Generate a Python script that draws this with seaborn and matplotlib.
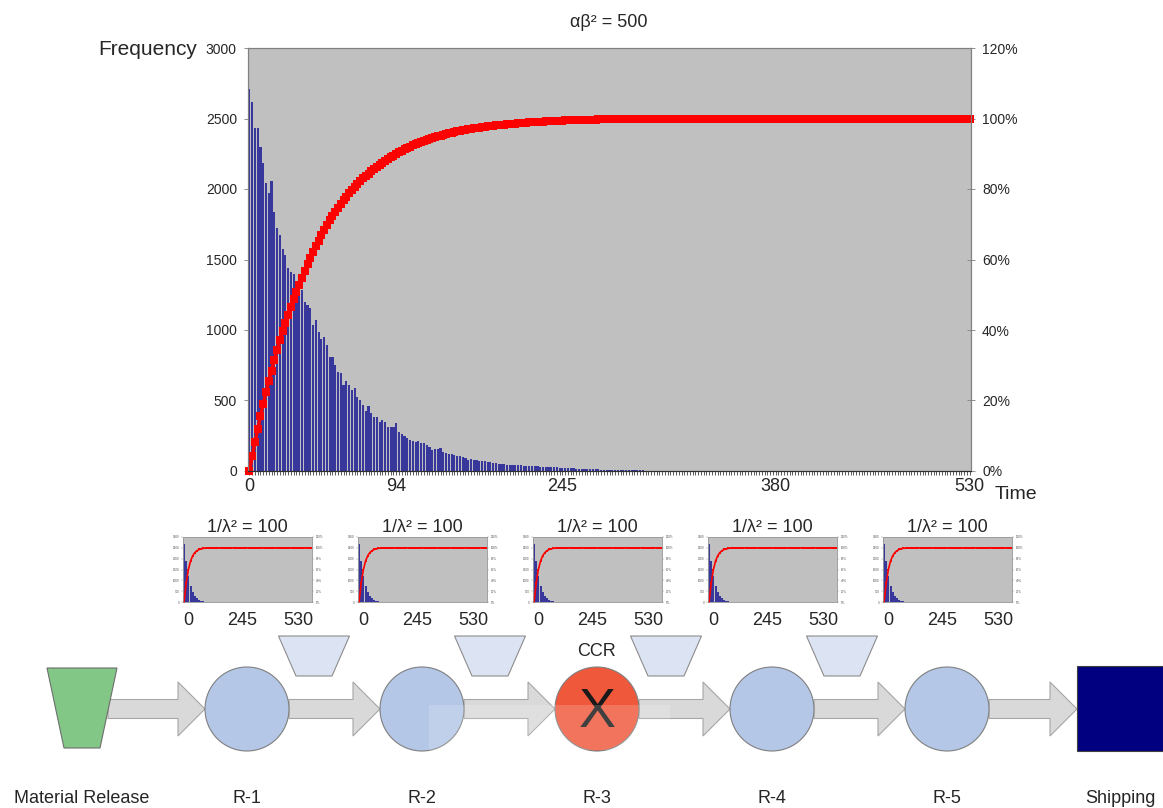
import numpy as np
import pandas as pd
import matplotlib
matplotlib.use('Agg')
import matplotlib.pyplot as plt
import seaborn as sns
from matplotlib.patches import Polygon, Circle, Rectangle
from matplotlib.ticker import PercentFormatter

# frequency per time bin for the main chart (alpha*beta^2 = 500)
freq = [
    2706, 2619, 2434, 2434, 2295, 2182, 2040, 1969, 2058, 1838,
    1725, 1673, 1572, 1531, 1437, 1413, 1397, 1342, 1307, 1283,
    1200, 1177, 1154, 1035, 1071, 988, 934, 952, 893, 810,
    806, 752, 704, 693, 610, 640, 610, 574, 586, 527,
    503, 468, 425, 461, 409, 385, 381, 350, 362, 350,
    314, 314, 310, 342, 279, 262, 248, 232, 220, 215,
    208, 215, 196, 201, 184, 168, 149, 154, 154, 161,
    137, 130, 121, 121, 113, 106, 106, 97, 90, 78,
    83, 78, 78, 73, 73, 71, 66, 62, 59, 54,
    50, 48, 47, 45, 46, 43, 42, 41, 40, 38,
    37, 36, 35, 33, 32, 31, 30, 28, 28, 27,
    25, 25, 23, 22, 21, 20, 19, 18, 17, 16,
    15, 14, 14, 13, 12, 11, 11, 10, 9, 9,
    8, 8, 7, 7, 6, 6, 5, 5, 5, 4,
    4, 4, 4, 3, 3, 3, 3, 3, 2, 2,
    2, 2, 2, 2, 2, 1, 1, 1, 1, 1,
    1, 1, 1, 1, 1, 1, 1, 1, 1, 1,
    1, 1, 1, 1, 1, 1, 1, 0, 1, 1,
    0, 1, 1, 0, 1, 0, 1, 0, 0, 1,
    0, 1, 0, 0, 1, 0, 0, 0, 1, 0,
    0, 0, 1, 0, 0, 0, 0, 1, 0, 0,
    0, 0, 0, 0, 1, 0, 0, 0, 0, 0,
    0, 0, 0, 0, 0, 0, 0, 0, 0, 0,
    0, 0, 0, 0, 0, 0, 0, 0, 0, 0,
    0, 0, 0, 0, 0, 0, 0, 0, 0, 0,
    0, 0, 0, 0, 0, 0, 0, 0, 0, 0,
    0,
]
time_tick_labels = ['0', '94', '245', '380', '530']
time_tick_bins = [0, 53, 113, 190, 260]

# small charts (1/lambda^2 = 100) for each resource
small_freq = [
    2700, 1900, 1200, 750, 450, 280, 170, 100, 60, 35,
    20, 10, 5, 2, 1, 0, 0, 0, 0, 0,
    0, 0, 0, 0, 0, 0, 0, 0, 0, 0, 0, 0, 0, 0, 0, 0, 0, 0, 0, 0,
    0, 0, 0, 0, 0, 0, 0, 0, 0, 0, 0, 0, 0, 0, 0, 0, 0, 0, 0, 0,
]
small_tick_labels = ['0', '245', '530']
small_tick_bins = [2, 27, 53]
small_titles = ['1/λ² = 100', '1/λ² = 100', '1/λ² = 100', '1/λ² = 100', '1/λ² = 100']

stations = ['Material Release', 'R-1', 'R-2', 'R-3', 'R-4', 'R-5', 'Shipping']

sns.set_theme(style='ticks')
plt.rcParams['font.family'] = ['Liberation Sans', 'DejaVu Sans']

W, H = 1163, 808
BAR = '#37379C'
GREY = '#C0C0C0'
SPINE = '#808080'


def fx(px):
    return px / W


def fy(py):
    return 1 - py / H


def make_df(values):
    df = pd.DataFrame({'bin': np.arange(len(values)), 'freq': values})
    df['cum'] = (df['freq'].cumsum() - df['freq']) / df['freq'].sum() * 100
    return df


fig = plt.figure(figsize=(W / 100, H / 100), dpi=100)
fig.patch.set_facecolor('white')

# ---- main chart
df = make_df(freq)
n = len(df)
ax = fig.add_axes([fx(248), fy(471), 723 / W, 423 / H])
ax.set_facecolor(GREY)
sns.barplot(data=df, x='bin', y='freq', color=BAR, saturation=1, width=0.78,
            errorbar=None, linewidth=0, ax=ax)
ax.set_xlim(-0.5, n - 0.5)
ax.set_ylim(0, 3000)
ax.set_yticks(range(0, 3001, 500))
ax.set_xticks(time_tick_bins, time_tick_labels)
ax.set_xticks(np.arange(n), minor=True)
ax.tick_params(axis='x', which='both', direction='out', length=3, width=0.6,
               color='#404040', labelsize=13, pad=2)
ax.tick_params(axis='y', direction='out', length=3, width=0.6, color=SPINE,
               labelsize=10, pad=5)
ax.set_xlabel('')
ax.set_ylabel('')

ax2 = ax.twinx()
sns.lineplot(data=df, x='bin', y='cum', ax=ax2, color='#FF0000', linewidth=2.5,
             marker='s', markersize=5.5, markeredgewidth=0)
for ln in ax2.lines:
    ln.set_clip_on(False)
ax2.set_ylim(0, 120)
ax2.set_yticks(range(0, 121, 20))
ax2.yaxis.set_major_formatter(PercentFormatter(decimals=0))
ax2.tick_params(axis='y', direction='inout', length=6, width=0.6, color=SPINE,
                labelsize=10, pad=5)
ax2.set_ylabel('')
ax2.set_xlabel('')
for a in (ax, ax2):
    for side in ('left', 'right', 'top'):
        a.spines[side].set_visible(True)
        a.spines[side].set_color(SPINE)
        a.spines[side].set_linewidth(0.8)
    a.spines['bottom'].set_color('#303030')
    a.spines['bottom'].set_linewidth(0.8)

fig.text(fx(609), fy(27), 'αβ² = 500', ha='center', va='baseline', fontsize=13)
fig.text(fx(197), fy(55), 'Frequency', ha='right', va='baseline', fontsize=15)
fig.text(fx(995), fy(499), 'Time', ha='left', va='baseline', fontsize=14)

# ---- small charts
sdf = make_df(small_freq)
sn = len(sdf)
for k, title in enumerate(small_titles):
    left = 183 + 175 * k
    sx = fig.add_axes([fx(left), fy(602), 129 / W, 65 / H])
    sx.set_facecolor(GREY)
    sns.barplot(data=sdf, x='bin', y='freq', color=BAR, saturation=1, width=0.95,
                errorbar=None, linewidth=0, ax=sx)
    sx.set_xlim(-0.5, sn - 0.5)
    sx.set_ylim(0, 3000)
    sx.set_yticks(range(0, 3001, 500))
    sx.set_xticks(small_tick_bins, small_tick_labels)
    sx.tick_params(axis='x', length=0, labelsize=13, pad=7)
    sx.tick_params(axis='y', length=1.5, width=0.3, labelsize=2.2,
                   labelcolor='#555555', color='#888888', pad=1)
    sx.set_xlabel('')
    sx.set_ylabel('')
    sx2 = sx.twinx()
    sns.lineplot(data=sdf, x='bin', y='cum', ax=sx2, color='#FF0000', linewidth=1.2,
                 marker='s', markersize=1.6, markeredgewidth=0)
    sx2.set_ylim(0, 120)
    sx2.set_yticks(range(0, 121, 20))
    sx2.yaxis.set_major_formatter(PercentFormatter(decimals=0))
    sx2.tick_params(axis='y', length=1.5, width=0.3, labelsize=2.2,
                    labelcolor='#555555', color='#888888', pad=1)
    sx2.set_xlabel('')
    sx2.set_ylabel('')
    for a in (sx, sx2):
        for side in ('left', 'right', 'top', 'bottom'):
            a.spines[side].set_visible(True)
            a.spines[side].set_color('#9A9A9A')
            a.spines[side].set_linewidth(0.5)
    fig.text(fx(left + 64.5), fy(532), title, ha='center', va='baseline', fontsize=13)

# ---- flow diagram
dx = fig.add_axes([0, 0, 1, 180 / H])
dx.set_xlim(0, W)
dx.set_ylim(H, H - 180)
dx.axis('off')

cy, r = 709, 42
centers = [247 + 175 * k for k in range(5)]
label_x = [82] + centers + [1120]


def block_arrow(x0, x1):
    pts = [(x0, cy - 9.5), (x1 - 27, cy - 9.5), (x1 - 27, cy - 27), (x1, cy),
           (x1 - 27, cy + 27), (x1 - 27, cy + 9.5), (x0, cy + 9.5)]
    dx.add_patch(Polygon(pts, closed=True, fc='#D9D9D9', ec='#A6A6A6', lw=0.8, zorder=1))


block_arrow(108, centers[0] - r)
for a_x, b_x in zip(centers[:-1], centers[1:]):
    block_arrow(a_x + r, b_x - r)
block_arrow(centers[-1] + r, 1077)

dx.add_patch(Polygon([(47, 668), (117, 668), (100, 748), (64, 748)], closed=True,
                     fc='#82C786', ec='#6E6E6E', lw=0.8, zorder=2))
for k in range(4):
    bx = 314 + 176 * k
    dx.add_patch(Polygon([(bx - 35.5, 636), (bx + 35.5, 636), (bx + 18, 676), (bx - 18, 676)],
                         closed=True, fc='#DCE4F4', ec='#8C8C8C', lw=0.8, zorder=2))
for k, c in enumerate(centers):
    fc = '#F0583C' if stations[k + 1] == 'R-3' else '#B4C7E7'
    dx.add_patch(Circle((c, cy), r, fc=fc, ec='#7F7F7F', lw=0.8, zorder=3))
dx.add_patch(Rectangle((1077, 666), 86, 85, fc='#000080', ec='#404040', lw=0.8, zorder=3))
dx.add_patch(Rectangle((429, 705), 241, 45, fc='white', alpha=0.17, lw=0, zorder=5))

dx.text(centers[2], 727, 'X', ha='center', va='baseline', fontsize=40, color='#1A1A1A', zorder=4)
dx.text(centers[2], 656, 'CCR', ha='center', va='baseline', fontsize=13)
for name, x in zip(stations, label_x):
    dx.text(x, 803, name, ha='center', va='baseline', fontsize=13)

fig.savefig('out.png', dpi=100)
plt.close(fig)
